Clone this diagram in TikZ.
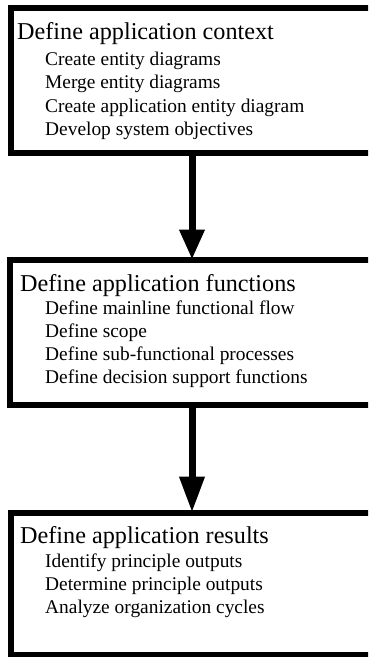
\documentclass[tikz,border=0pt]{standalone}
\usepackage{fontspec}
\setmainfont{Liberation Serif}
\usetikzlibrary{arrows.meta}
\begin{document}
\begin{tikzpicture}[x=1pt,y=-1pt,
  box/.style={draw=black, line width=6pt, rectangle, inner sep=0pt, outer sep=0pt, anchor=north west},
  ttl/.style={anchor=base west, inner sep=0pt, font=\fontsize{24.2}{28}\selectfont},
  itm/.style={anchor=base west, inner sep=0pt, font=\fontsize{19.4}{23}\selectfont},
  flow/.style={line width=7pt, draw=black}]
\clip (0,0) rectangle (368,657);
\fill[white] (0,0) rectangle (368,657);
% boxes
\node[box, minimum width=400pt, minimum height=145.5pt] (b1) at (11,7.5) {};
\node[box, minimum width=400pt, minimum height=145.5pt] (b2) at (10,259.5) {};
\node[box, minimum width=400pt, minimum height=142.5pt] (b3) at (10.5,512.5) {};
% box 1 text
\node[ttl] (t1) at (17,39) {Define application context};
\node[itm] (t1a) at (45,65) {Create entity diagrams};
\node[itm] (t1b) at (45,88) {Merge entity diagrams};
\node[itm] (t1c) at (45,112) {Create application entity diagram};
\node[itm] (t1d) at (45,135) {Develop system objectives};
% box 2 text
\node[ttl] (t2) at (20,291) {Define application functions};
\node[itm] (t2a) at (45,314) {Define mainline functional flow};
\node[itm] (t2b) at (45,337) {Define scope};
\node[itm] (t2c) at (45,360) {Define sub-functional processes};
\node[itm] (t2d) at (45,383) {Define decision support functions};
% box 3 text
\node[ttl] (t3) at (20,543) {Define application results};
\node[itm] (t3a) at (45,567) {Identify principle outputs};
\node[itm] (t3b) at (45,590) {Determine principle outputs};
\node[itm] (t3c) at (45,613) {Analyze organization cycles};
% arrows
\coordinate (x) at (192,0);
\draw[flow, -{Triangle[length=30pt,width=24pt]}] (b1.south -| x) -- (b2.north -| x);
\draw[flow, -{Triangle[length=36pt,width=24pt]}] (b2.south -| x) -- (b3.north -| x);
\end{tikzpicture}
\end{document}
